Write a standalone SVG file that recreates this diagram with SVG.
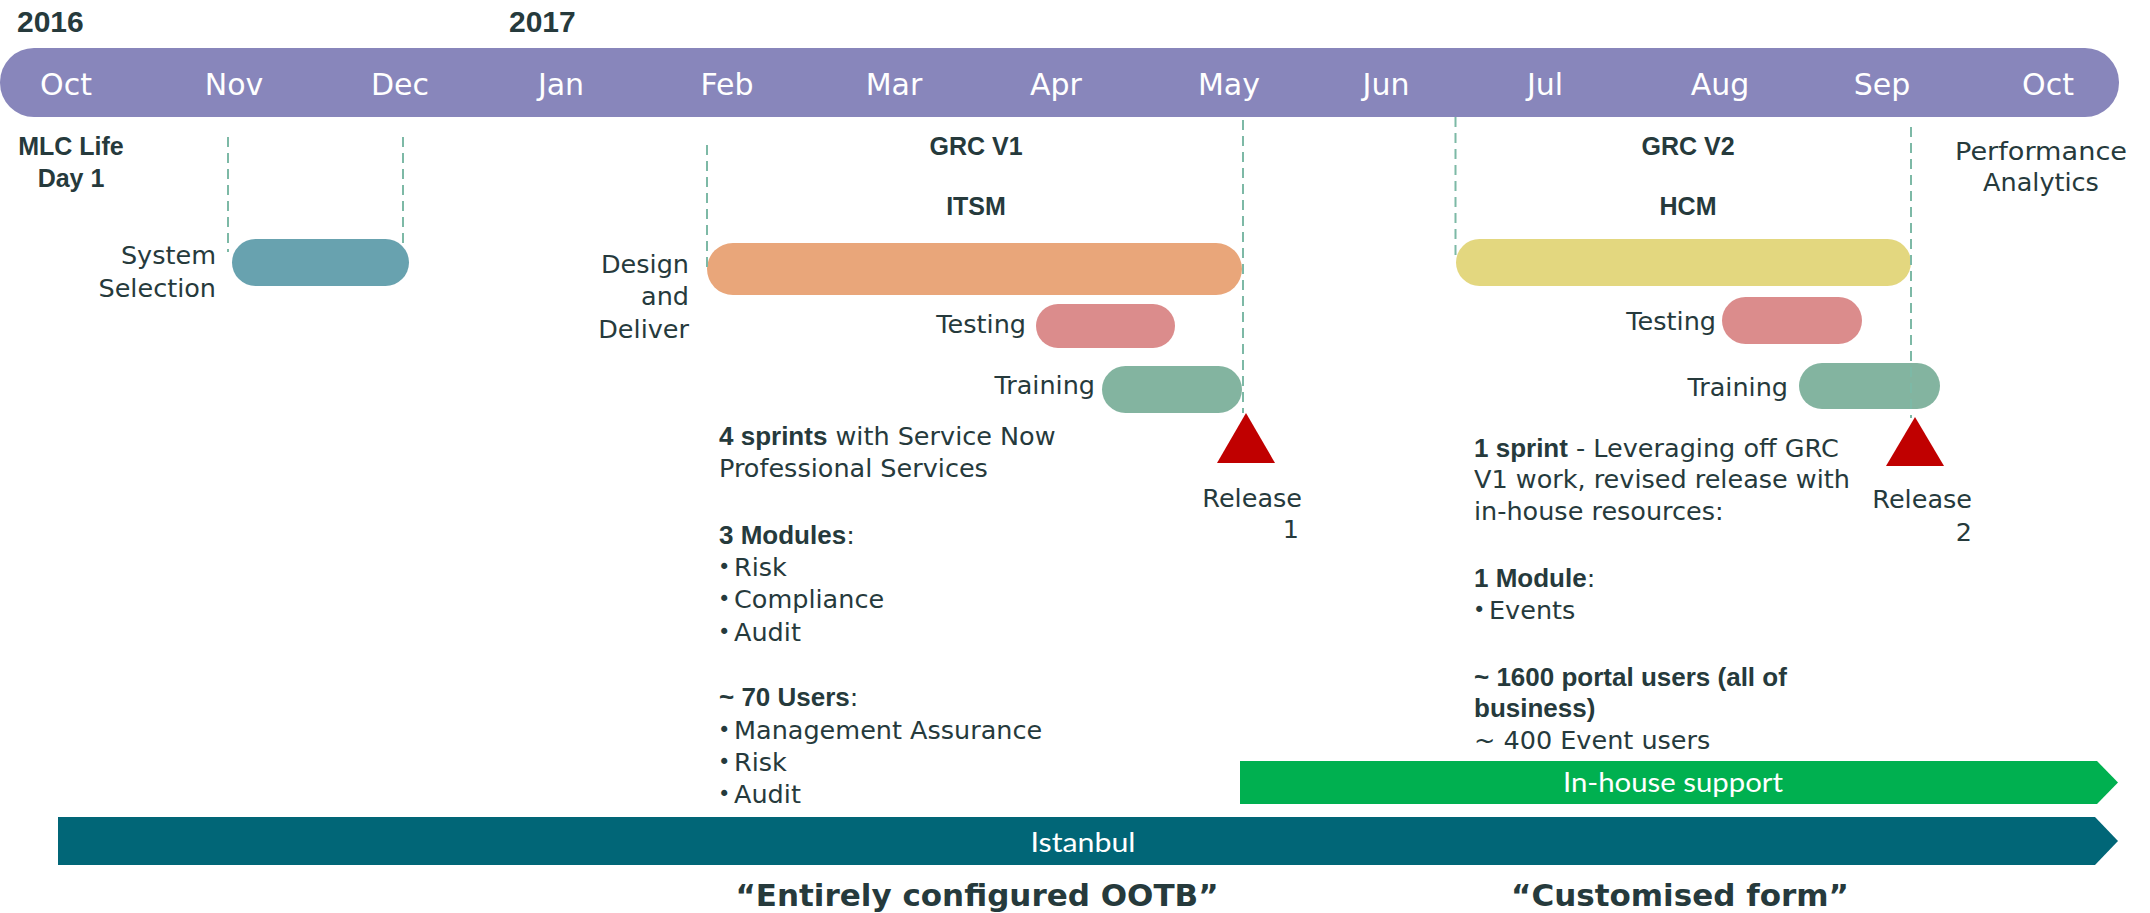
<svg xmlns="http://www.w3.org/2000/svg" width="2150" height="913" viewBox="0 0 2150 913">
  <style>
    .txt { font-family: "DejaVu Sans", "Liberation Sans", sans-serif; font-size: 25.5px; fill: #263a3c; }
    .b { font-family: "Liberation Sans", Arial, sans-serif; font-weight: bold; font-size: 26px; fill: #263a3c; }
    .dot { font-size: 21px; }
    .lbl { font-family: "Liberation Sans", Arial, sans-serif; font-weight: bold; font-size: 25px; fill: #263a3c; }
    .year { font-family: "Liberation Sans", Arial, sans-serif; font-weight: bold; font-size: 30px; fill: #263a3c; }
    .month { font-family: "DejaVu Sans", sans-serif; font-size: 30px; fill: #ffffff; text-anchor: middle; }
    .quote { font-family: "DejaVu Sans", sans-serif; font-weight: bold; font-size: 31px; fill: #263a3c; text-anchor: middle; }
    .arrowtxt { font-family: Lato, "Open Sans", sans-serif; font-size: 26px; fill: #ffffff; text-anchor: middle; }
    .end { text-anchor: end; }
    .mid { text-anchor: middle; }
    .guide { stroke: #7db9a6; stroke-width: 2; stroke-dasharray: 10 6; fill: none; }
    .release { fill: #c00000; }
  </style>

  <!-- year markers -->
  <g id="years">
    <text class="year" x="17" y="32">2016</text>
    <text class="year" x="509" y="32">2017</text>
  </g>

  <!-- month timeline -->
  <g id="timeline">
    <rect x="0" y="48" width="2119" height="69" rx="34" ry="34" fill="#8886bb"/>
    <text class="month" x="66" y="95">Oct</text>
    <text class="month" x="234" y="95">Nov</text>
    <text class="month" x="400" y="95">Dec</text>
    <text class="month" x="561" y="95">Jan</text>
    <text class="month" x="727" y="95">Feb</text>
    <text class="month" x="894" y="95">Mar</text>
    <text class="month" x="1056" y="95">Apr</text>
    <text class="month" x="1229" y="95">May</text>
    <text class="month" x="1386" y="95">Jun</text>
    <text class="month" x="1545" y="95">Jul</text>
    <text class="month" x="1720" y="95">Aug</text>
    <text class="month" x="1882" y="95">Sep</text>
    <text class="month" x="2048" y="95">Oct</text>
  </g>

  <!-- milestone headings -->
  <g id="mlc-day1">
    <text class="lbl mid" x="71" y="155">MLC Life</text>
    <text class="lbl mid" x="71" y="187">Day 1</text>
  </g>
  <g id="grc-v1-heading">
    <text class="lbl mid" x="976" y="155">GRC V1</text>
    <text class="lbl mid" x="976" y="215">ITSM</text>
  </g>
  <g id="grc-v2-heading">
    <text class="lbl mid" x="1688" y="155">GRC V2</text>
    <text class="lbl mid" x="1688" y="215">HCM</text>
  </g>
  <g id="performance-analytics">
    <text class="txt mid" x="2041" y="160" textLength="172" lengthAdjust="spacingAndGlyphs">Performance</text>
    <text class="txt mid" x="2041" y="191">Analytics</text>
  </g>

  <!-- phase bars -->
  <g id="system-selection">
    <rect x="232" y="239" width="177" height="47" rx="23.5" fill="#68a2af"/>
    <text class="txt end" x="216" y="264">System</text>
    <text class="txt end" x="216" y="297">Selection</text>
  </g>
  <g id="v1-design-deliver">
    <rect x="707" y="243" width="535" height="52" rx="26" fill="#e9a67a"/>
    <text class="txt end" x="689" y="273">Design</text>
    <text class="txt end" x="689" y="305">and</text>
    <text class="txt end" x="689" y="338">Deliver</text>
  </g>
  <g id="v1-testing">
    <rect x="1036" y="304" width="139" height="44" rx="22" fill="#db8c8c"/>
    <text class="txt end" x="1026" y="333">Testing</text>
  </g>
  <g id="v1-training">
    <rect x="1102" y="366" width="140" height="47" rx="23.5" fill="#83b4a0"/>
    <text class="txt end" x="1095" y="394">Training</text>
  </g>
  <g id="v2-build">
    <rect x="1456" y="239" width="455" height="47" rx="23.5" fill="#e3d77f"/>
  </g>
  <g id="v2-testing">
    <rect x="1722" y="297" width="140" height="47" rx="23.5" fill="#db8c8c"/>
    <text class="txt end" x="1716" y="330">Testing</text>
  </g>
  <g id="v2-training">
    <rect x="1799" y="363" width="141" height="46" rx="23" fill="#83b4a0"/>
    <text class="txt end" x="1788" y="396">Training</text>
  </g>

  <!-- releases -->
  <g id="release-1">
    <polygon class="release" points="1246,413 1217,463 1275,463"/>
    <text class="txt end" x="1302" y="507">Release</text>
    <text class="txt end" x="1299" y="538">1</text>
  </g>
  <g id="release-2">
    <polygon class="release" points="1915,417 1886,466 1944,466"/>
    <text class="txt end" x="1972" y="508">Release</text>
    <text class="txt end" x="1972" y="541">2</text>
  </g>

  <!-- release notes -->
  <g id="v1-notes">
    <text class="txt" x="719" y="445"><tspan class="b">4 sprints</tspan> with Service Now</text>
    <text class="txt" x="719" y="477">Professional Services</text>
    <text class="txt" x="719" y="544"><tspan class="b">3 Modules</tspan>:</text>
    <text class="txt" x="718" y="576"><tspan class="dot" dy="-2">•</tspan><tspan x="734" dy="2">Risk</tspan></text>
    <text class="txt" x="718" y="608"><tspan class="dot" dy="-2">•</tspan><tspan x="734" dy="2">Compliance</tspan></text>
    <text class="txt" x="718" y="641"><tspan class="dot" dy="-2">•</tspan><tspan x="734" dy="2">Audit</tspan></text>
    <text class="txt" x="719" y="706"><tspan class="b">~ 70 Users</tspan>:</text>
    <text class="txt" x="718" y="739"><tspan class="dot" dy="-2">•</tspan><tspan x="734" dy="2">Management Assurance</tspan></text>
    <text class="txt" x="718" y="771"><tspan class="dot" dy="-2">•</tspan><tspan x="734" dy="2">Risk</tspan></text>
    <text class="txt" x="718" y="803"><tspan class="dot" dy="-2">•</tspan><tspan x="734" dy="2">Audit</tspan></text>
  </g>
  <g id="v2-notes">
    <text class="txt" x="1474" y="457"><tspan class="b">1 sprint</tspan> - Leveraging off GRC</text>
    <text class="txt" x="1474" y="488">V1 work, revised release with</text>
    <text class="txt" x="1474" y="520">in-house resources:</text>
    <text class="txt" x="1474" y="587"><tspan class="b">1 Module</tspan>:</text>
    <text class="txt" x="1473" y="619"><tspan class="dot" dy="-2">•</tspan><tspan x="1489" dy="2">Events</tspan></text>
    <text class="b" x="1474" y="686">~ 1600 portal users (all of</text>
    <text class="b" x="1474" y="717">business)</text>
    <text class="txt" x="1474" y="749">~ 400 Event users</text>
  </g>

  <!-- support bands -->
  <g id="in-house-support">
    <polygon points="1240,761 2097,761 2118,782.5 2097,804 1240,804" fill="#00b050"/>
    <text class="arrowtxt" x="1673" y="792" textLength="220" lengthAdjust="spacingAndGlyphs">In-house support</text>
  </g>
  <g id="istanbul">
    <polygon points="58,817 2095,817 2118,841 2095,865 58,865" fill="#016677"/>
    <text class="arrowtxt" x="1083" y="852" textLength="105" lengthAdjust="spacingAndGlyphs">Istanbul</text>
  </g>

  <!-- captions -->
  <g id="captions">
    <text class="quote" x="977" y="906">“Entirely configured OOTB”</text>
    <text class="quote" x="1680" y="906">“Customised form”</text>
  </g>

  <!-- dashed month guides -->
  <g id="connectors">
    <line class="guide" x1="228" y1="137" x2="228" y2="252"/>
    <line class="guide" x1="403" y1="137" x2="403" y2="245"/>
    <line class="guide" x1="707" y1="145" x2="707" y2="268"/>
    <line class="guide" x1="1243" y1="120" x2="1243" y2="413"/>
    <line class="guide" x1="1455.5" y1="117" x2="1455.5" y2="257"/>
    <line class="guide" x1="1911" y1="127" x2="1911" y2="418"/>
  </g>
</svg>
